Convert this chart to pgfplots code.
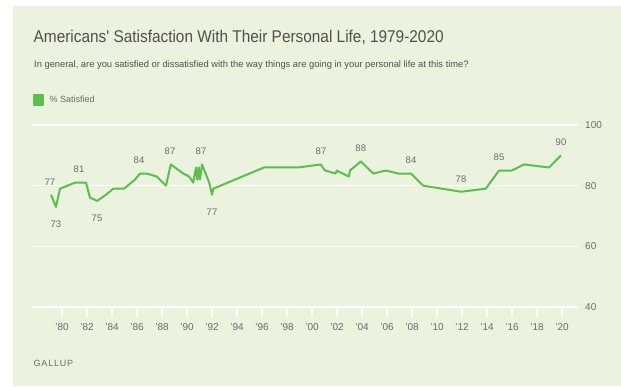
\documentclass[border=0pt]{standalone}
\usepackage{pgfplots}
\pgfplotsset{compat=1.18}
\usepackage{fontspec}
\setmainfont{Liberation Sans}
\newfontfamily\titlefont[FakeStretch=0.905]{Liberation Sans}
\definecolor{bgc}{HTML}{EBF2DE}
\definecolor{lgreen}{HTML}{5BBF4E}
\definecolor{txt}{HTML}{6B6B6B}
\definecolor{ttl}{HTML}{505050}
\pgfplotstableread{
x y
1979.12 77
1979.52 73
1979.84 79
1981.04 81
1981.92 81
1982.24 76
1982.82 75
1983.52 77
1984.10 79
1984.96 79
1985.84 82
1986.24 84
1986.78 84
1987.58 83
1988.32 80
1988.70 87
1989.70 84
1990.18 83
1990.50 81
1990.72 86
1990.82 82
1990.94 86
1991.04 82
1991.20 87
1991.78 81
1992.00 77
1992.10 79
1996.16 86
1998.90 86
2000.70 87
2001.04 85
2001.90 84
2001.98 85
2002.94 83
2003.04 85
2003.90 88
2004.90 84
2005.92 85
2006.90 84
2007.92 84
2008.90 80
2011.92 78
2013.90 79
2014.96 85
2015.98 85
2016.96 87
2018.96 86
2019.92 90
}\satisfied
\pgfplotstableread{
x y label
1979.04 77 77
1981.36 81 81
1986.16 84 84
1988.64 87 87
1991.12 87 87
2000.72 87 87
2003.90 88 88
2007.92 84 84
2011.92 78 78
2014.96 85 85
2019.92 90 90
}\above
\pgfplotstableread{
x y label
1979.52 73 73
1982.80 75 75
1992.00 77 77
}\below
\begin{document}
\begin{tikzpicture}[x=1bp,y=1bp]
\fill[white] (0,0) rectangle (621,386);
\fill[bgc] (13,0) rectangle (621,380);
\node[anchor=west, inner sep=0pt, text=ttl] at (33.5,349) {\titlefont\fontsize{17bp}{20bp}\selectfont Americans' Satisfaction With Their Personal Life, 1979-2020};
\node[anchor=west, inner sep=0pt, text=ttl] at (34,320.5) {\fontsize{9.35bp}{11bp}\selectfont In general, are you satisfied or dissatisfied with the way things are going in your personal life at this time?};
\node[anchor=west, inner sep=0pt, text=txt] at (33.5,23) {\fontsize{9bp}{10bp}\selectfont G\kern0.8bp A\kern0.8bp L\kern0.8bp L\kern0.8bp U\kern0.8bp P};
\begin{axis}[
  at={(33bp,79bp)}, anchor=south west,
  scale only axis, width=545bp, height=182bp,
  xmin=1977.68, xmax=2021.28, ymin=40, ymax=100,
  axis line style={draw=none},
  ymajorgrids, grid style={white, line width=1.4bp},
  ytick={40,60,80,100},
  ytick align=inside,
  yticklabel pos=right,
  yticklabel style={anchor=west, inner sep=0pt, xshift=7bp, text=txt, font=\fontsize{10bp}{12bp}\selectfont},
  /pgf/number format/assume math mode=true,
  xtick={1980,1982,...,2020},
  xticklabels={'80,'82,'84,'86,'88,'90,'92,'94,'96,'98,'00,'02,'04,'06,'08,'10,'12,'14,'16,'18,'20},
  xtick pos=bottom, xtick align=outside,
  major tick length=10bp,
  xtick style={white, line width=1.4bp},
  ytick style={draw=none},
  xticklabel style={inner sep=0pt, yshift=-6bp, text=txt, font=\fontsize{10bp}{12bp}\selectfont},
  legend style={at={(0,1.137)}, anchor=west, draw=none, fill=none, inner sep=0pt,
    font=\fontsize{9bp}{10bp}\selectfont, text=txt},
  legend cell align=left,
  legend image code/.code={\fill[lgreen] (0bp,-5bp) rectangle (8.5bp,5bp);},
  clip=false,
]
\addplot[lgreen, line width=2bp, line join=round] table[x=x,y=y]{\satisfied};
\addlegendentry{\hspace*{4bp}\% Satisfied}
\addplot[draw=none, forget plot, nodes near coords, point meta=explicit symbolic,
  nodes near coords style={anchor=center, yshift=13bp, text=txt, font=\fontsize{9.5bp}{11bp}\selectfont}]
  table[x=x,y=y,meta=label]{\above};
\addplot[draw=none, forget plot, nodes near coords, point meta=explicit symbolic,
  nodes near coords style={anchor=center, yshift=-17.5bp, text=txt, font=\fontsize{9.5bp}{11bp}\selectfont}]
  table[x=x,y=y,meta=label]{\below};
\end{axis}
\end{tikzpicture}
\end{document}
